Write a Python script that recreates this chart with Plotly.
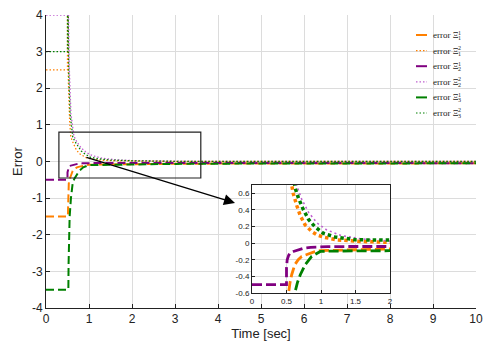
import plotly.graph_objects as go

# ---------- data ----------
# Xi_1^1 : orange dashed
t_o1 = [0, 0.51, 0.515, 0.52, 0.53, 0.55, 0.575, 0.62, 0.67, 0.72, 0.78, 0.84, 0.9, 0.99, 1.2, 1.46, 2.0, 3, 5, 10]
e_o1 = [-1.5, -1.5, -1.2, -0.95, -0.6, -0.48, -0.38, -0.26, -0.2, -0.16, -0.14, -0.12, -0.105, -0.09, -0.085, -0.08, -0.07, -0.06, -0.055, -0.05]
# Xi_1^2 : orange dotted
t_o2 = [0, 0.5, 0.5, 0.52, 0.55, 0.575, 0.6, 0.65, 0.7, 0.77, 0.865, 0.94, 1.05, 1.23, 1.57, 2.0, 3, 5, 10]
e_o2 = [2.5, 2.5, 6, 2.2, 1.1, 0.7, 0.59, 0.45, 0.33, 0.22, 0.14, 0.1, 0.07, 0.04, 0.02, 0.01, 0.003, 0.0, 0.0]
# Xi_2^1 : purple dashed
t_p1 = [0, 0.5, 0.5, 0.51, 0.53, 0.55, 0.6, 0.67, 0.75, 0.85, 0.95, 1.1, 1.5, 2.0, 3, 5, 10]
e_p1 = [-0.5, -0.5, -0.3, -0.2, -0.15, -0.12, -0.1, -0.08, -0.06, -0.05, -0.045, -0.042, -0.04, -0.04, -0.042, -0.045, -0.045]
# Xi_2^2 : violet dotted
t_p2 = [0, 0.5, 0.5, 0.54, 0.58, 0.62, 0.65, 0.72, 0.82, 0.94, 1.08, 1.3, 1.6, 2.0, 3, 5, 10]
e_p2 = [4, 4, 6, 2.6, 1.3, 0.85, 0.69, 0.53, 0.37, 0.245, 0.16, 0.09, 0.05, 0.025, 0.008, 0.0, 0.0]
# Xi_3^1 : green dashed
t_g1 = [0, 0.52, 0.525, 0.53, 0.55, 0.58, 0.62, 0.66, 0.70, 0.77, 0.865, 0.99, 1.2, 1.46, 2.0, 3, 5, 10]
e_g1 = [-3.5, -3.5, -2.8, -2.2, -1.5, -1.0, -0.6, -0.47, -0.38, -0.26, -0.16, -0.1, -0.095, -0.09, -0.08, -0.065, -0.055, -0.05]
# Xi_3^2 : green dotted
t_g2 = [0, 0.5, 0.5, 0.53, 0.56, 0.6, 0.623, 0.67, 0.74, 0.82, 0.91, 1.03, 1.2, 1.5, 2.0, 3, 5, 10]
e_g2 = [3, 3, 6, 2.4, 1.3, 0.82, 0.67, 0.55, 0.41, 0.285, 0.2, 0.12, 0.075, 0.04, 0.02, 0.005, 0.0, 0.0]

x_ticks = [0, 1, 2, 3, 4, 5, 6, 7, 8, 9, 10]
y_ticks = [-4, -3, -2, -1, 0, 1, 2, 3, 4]
inset_x_ticks = [0, 0.5, 1, 1.5, 2]
inset_x_text = ["0", "0.5", "1", "1.5", "2"]
inset_y_ticks = [-0.6, -0.4, -0.2, 0, 0.2, 0.4, 0.6]
inset_y_text = ["-0.6", "-0.4", "-0.2", "0", "0.2", "0.4", "0.6"]

# legend labels: "error Ξ" with stacked sub/superscript indices
leg_sub = ["1", "1", "2", "2", "3", "3"]
leg_sup = ["1", "2", "1", "2", "1", "2"]

ORANGE = "#ff8000"
PURPLE = "#800080"
VIOLET = "#c060d0"
GREEN = "#008000"

series = [
    (t_o1, e_o1, ORANGE, "dash"),
    (t_o2, e_o2, ORANGE, "dot"),
    (t_p1, e_p1, PURPLE, "dash"),
    (t_p2, e_p2, VIOLET, "dot"),
    (t_g1, e_g1, GREEN, "dash"),
    (t_g2, e_g2, GREEN, "dot"),
]

fig = go.Figure()

# main plot
for i, (t, e, col, kind) in enumerate(series):
    if kind == "dash":
        line = dict(color=col, width=2, dash="8px,4px")
    else:
        line = dict(color=col, width=1.3, dash="1.5px,2px")
    fig.add_trace(go.Scatter(x=t, y=e, mode="lines", showlegend=False,
                             name="error Ξ%s,%s" % (leg_sub[i], leg_sup[i]),
                             line=line, xaxis="x", yaxis="y"))

# inset (zoom of the transient)
for t, e, col, kind in series:
    if kind == "dash":
        line = dict(color=col, width=2.8, dash="10px,4px")
    elif col == VIOLET:
        line = dict(color=col, width=1.6, dash="2px,3px")
    else:
        line = dict(color=col, width=3.5, dash="3.5px,3px")
    fig.add_trace(go.Scatter(x=t, y=e, mode="lines", line=line, showlegend=False,
                             xaxis="x2", yaxis="y2"))

# plot area in pixels (used to place legend / arrow in paper coords)
PL, PR, PT, PB = 46, 476, 15, 308
def px(x):
    return (x - PL) / (PR - PL)
def py(y):
    return (PB - y) / (PB - PT)

# hand-made legend (plotly's legend rows are too tall here)
serif = "Liberation Serif, Times New Roman"
for i, (t, e, col, kind) in enumerate(series):
    yy = 35 + 15.6 * i
    if kind == "dash":
        ln = dict(color=col, width=2)
    else:
        ln = dict(color=col, width=1.2, dash="1.5px,2px")
    fig.add_shape(type="line", xref="paper", yref="paper", x0=px(416), x1=px(427),
                  y0=py(yy), y1=py(yy), line=ln)
    fig.add_annotation(xref="paper", yref="paper", x=px(431), y=py(yy), xanchor="left",
                       yanchor="middle", showarrow=False, text="error Ξ",
                       font=dict(family=serif, size=9, color="#222"))
    fig.add_annotation(xref="paper", yref="paper", x=px(456), y=py(yy - 2.5), xanchor="left",
                       yanchor="middle", showarrow=False, text=leg_sup[i],
                       font=dict(family=serif, size=6, color="#222"))
    fig.add_annotation(xref="paper", yref="paper", x=px(456), y=py(yy + 3), xanchor="left",
                       yanchor="middle", showarrow=False, text=leg_sub[i],
                       font=dict(family=serif, size=6, color="#222"))

# zoom box and arrow
box_x = [0.3, 3.6]
box_y = [-0.45, 0.8]
fig.add_shape(type="rect", xref="x", yref="y", x0=box_x[0], x1=box_x[1],
              y0=box_y[0], y1=box_y[1], line=dict(color="#222", width=1.2), layer="above")
# white background for the inset
fig.add_shape(type="rect", xref="x2", yref="y2", x0=0, x1=2, y0=-0.6, y1=0.7,
              fillcolor="white", line=dict(width=0), layer="below")
fig.add_annotation(xref="paper", yref="paper", axref="pixel", ayref="pixel",
                   x=px(235), y=py(203), ax=-150, ay=-46, text="", showarrow=True,
                   arrowhead=2, arrowsize=1.7, arrowwidth=1.3, arrowcolor="black")

axis_font = dict(family="Liberation Sans, Arial", size=12, color="#222")
small_font = dict(family="Liberation Sans, Arial", size=8, color="#222")

fig.update_layout(
    width=493, height=346,
    margin=dict(l=PL, r=493 - PR, t=PT, b=346 - PB, autoexpand=False),
    paper_bgcolor="white", plot_bgcolor="white",
    font=axis_font, showlegend=False,
    xaxis=dict(domain=[0, 1], range=[0, 10], tickvals=x_ticks,
               ticktext=[str(v) for v in x_ticks], automargin=False,
               showgrid=True, gridcolor="#dcdcdc", gridwidth=1, zeroline=False,
               showline=True, linecolor="#222", linewidth=1,
               ticks="inside", ticklen=4, tickcolor="#222",
               title=dict(text="Time [sec]", font=dict(size=13), standoff=0)),
    yaxis=dict(domain=[0, 1], range=[-4, 4], tickvals=y_ticks,
               ticktext=[str(v) for v in y_ticks], automargin=False,
               showgrid=True, gridcolor="#dcdcdc", gridwidth=1, zeroline=False,
               showline=True, linecolor="#222", linewidth=1,
               ticks="inside", ticklen=4, tickcolor="#222",
               title=dict(text="Error", font=dict(size=13), standoff=6)),
    xaxis2=dict(domain=[px(252), px(390)], range=[0, 2], anchor="y2", automargin=False,
                tickvals=inset_x_ticks, ticktext=inset_x_text, tickfont=small_font,
                showgrid=True, gridcolor="#dcdcdc", zeroline=False,
                showline=True, mirror=True, linecolor="#222", linewidth=1,
                ticks="inside", ticklen=3, tickcolor="#222"),
    yaxis2=dict(domain=[py(293), py(185)], range=[-0.6, 0.7], anchor="x2", automargin=False,
                tickvals=inset_y_ticks, ticktext=inset_y_text, tickfont=small_font,
                showgrid=True, gridcolor="#dcdcdc", zeroline=False,
                showline=True, mirror=True, linecolor="#222", linewidth=1,
                ticks="inside", ticklen=3, tickcolor="#222"),
)

# drop the browser's default 8px page margin so the figure sits at (0, 0)
fig.write_html("out.html", config={"displayModeBar": False},
               post_script="document.body.style.margin='0';")
